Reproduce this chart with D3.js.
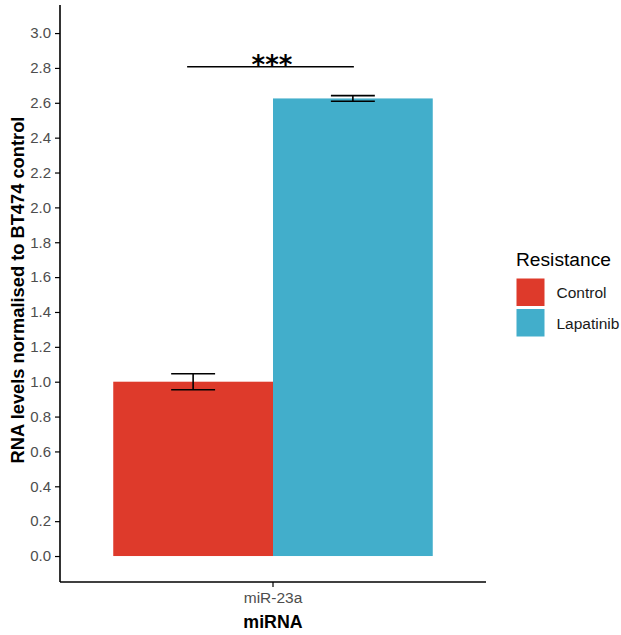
<!DOCTYPE html>
<html>
<head>
<meta charset="utf-8">
<script src="https://cdn.jsdelivr.net/npm/d3@7"></script>
<style>
  body { margin: 0; background: #fff; }
  svg { display: block; font-family: "Liberation Sans", Arial, sans-serif; }
</style>
</head>
<body>
<svg id="chart" width="621" height="635"></svg>
<script>
// Data
const categories = ["miR-23a"];
const groups = ["Control", "Lapatinib"];
const means = [1.0, 2.625];
const errors = [0.046, 0.016];
const groupColors = ["#DE3A2B", "#42AECB"];
const yTicks = [0.0, 0.2, 0.4, 0.6, 0.8, 1.0, 1.2, 1.4, 1.6, 1.8, 2.0, 2.2, 2.4, 2.6, 2.8, 3.0];
const sigLabel = "***";
const sigHeight = 2.807;

const svg = d3.select("#chart");
const plot = { left: 60, right: 486, top: 5, bottom: 582 };

const y = d3.scaleLinear().domain([-0.149, 3.161]).range([plot.bottom, plot.top]);
const x = d3.scaleBand().domain(categories).range([plot.left, plot.right]).paddingInner(0).paddingOuter(1 / 6);
const xg = d3.scaleBand().domain(groups).range([0, x.bandwidth()]).padding(0);

// Bars
const rows = groups.map((g, i) => ({ cat: categories[0], group: g, mean: means[i], err: errors[i], color: groupColors[i] }));
svg.append("g").selectAll("rect").data(rows).join("rect")
  .attr("x", d => x(d.cat) + xg(d.group))
  .attr("width", xg.bandwidth())
  .attr("y", d => y(d.mean))
  .attr("height", d => y(0) - y(d.mean))
  .attr("fill", d => d.color);

// Error bars
const capHalf = xg.bandwidth() * 0.1375;
const eb = svg.append("g").attr("stroke", "#000").attr("stroke-width", 1.6).attr("fill", "none");
rows.forEach(d => {
  const cx = x(d.cat) + xg(d.group) + xg.bandwidth() / 2;
  eb.append("line").attr("x1", cx).attr("x2", cx).attr("y1", y(d.mean + d.err)).attr("y2", y(d.mean - d.err));
  eb.append("line").attr("x1", cx - capHalf).attr("x2", cx + capHalf).attr("y1", y(d.mean + d.err)).attr("y2", y(d.mean + d.err));
  eb.append("line").attr("x1", cx - capHalf).attr("x2", cx + capHalf).attr("y1", y(d.mean - d.err)).attr("y2", y(d.mean - d.err));
});

// Significance bracket
const c0 = x(categories[0]) + xg(groups[0]) + xg.bandwidth() / 2;
const c1 = x(categories[0]) + xg(groups[1]) + xg.bandwidth() / 2;
svg.append("line")
  .attr("x1", c0 - 6).attr("x2", c1 + 1)
  .attr("y1", y(sigHeight)).attr("y2", y(sigHeight))
  .attr("stroke", "#000").attr("stroke-width", 1.6);
svg.append("text")
  .attr("x", (c0 + c1) / 2 - 1).attr("y", y(sigHeight) + 7)
  .attr("text-anchor", "middle")
  .attr("font-family", "DejaVu Sans, sans-serif")
  .attr("font-size", 26).attr("font-weight", "bold")
  .text(sigLabel);

// Axes
const yAxis = d3.axisLeft(y).tickValues(yTicks).tickFormat(d3.format(".1f")).tickSize(5).tickPadding(4);
const yG = svg.append("g").attr("transform", `translate(${plot.left},0)`).call(yAxis);
yG.select(".domain").attr("d", `M0,${plot.top}V${plot.bottom}`).attr("stroke-width", 1.6);
yG.selectAll(".tick line").attr("stroke-width", 1.2);
yG.selectAll(".tick text").attr("font-size", 15).attr("fill", "#4d4d4d").attr("font-family", "Liberation Sans, Arial, sans-serif");

const xAxis = d3.axisBottom(x).tickSize(5).tickPadding(3);
const xG = svg.append("g").attr("transform", `translate(0,${plot.bottom})`).call(xAxis);
xG.select(".domain").attr("d", `M${plot.left},0H${plot.right}`).attr("stroke-width", 1.6);
xG.selectAll(".tick line").attr("stroke-width", 1.2);
xG.selectAll(".tick text").attr("font-size", 15.5).attr("fill", "#4d4d4d").attr("font-family", "Liberation Sans, Arial, sans-serif").attr("dy", "0.85em");

// Axis titles
svg.append("text")
  .attr("transform", `translate(24,${290}) rotate(-90)`)
  .attr("text-anchor", "middle")
  .attr("font-size", 18.3).attr("font-weight", "bold")
  .text("RNA levels normalised to BT474 control");
svg.append("text")
  .attr("x", (plot.left + plot.right) / 2).attr("y", 628)
  .attr("text-anchor", "middle")
  .attr("font-size", 17.8).attr("font-weight", "bold")
  .text("miRNA");

// Legend
const lg = svg.append("g").attr("transform", "translate(516,0)");
lg.append("text").attr("x", 0).attr("y", 266).attr("font-size", 19.2).attr("fill", "#000").text("Resistance");
groups.forEach((g, i) => {
  lg.append("rect").attr("x", 0.5).attr("y", 278.5 + i * 30.5).attr("width", 28).attr("height", 27.5).attr("fill", groupColors[i]);
  lg.append("text").attr("x", 40.5).attr("y", 298 + i * 30.5).attr("font-size", 15.5).attr("fill", "#1a1a1a").text(g);
});
</script>
</body>
</html>
